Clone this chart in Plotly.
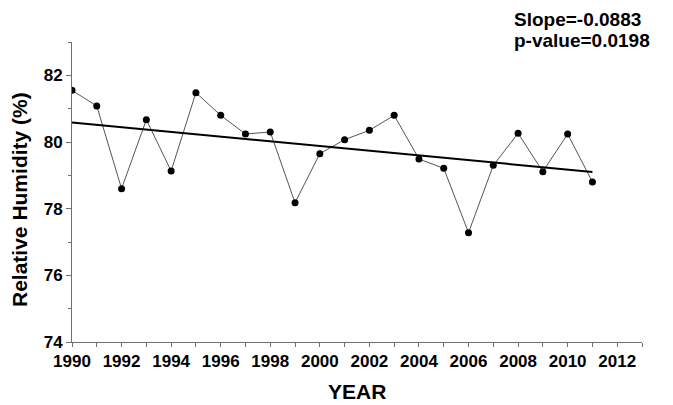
import numpy as np
import plotly.graph_objects as go

years = list(range(1990, 2012))
humidity = [81.55, 81.08, 78.60, 80.67, 79.13, 81.48, 80.80, 80.24, 80.30, 78.18, 79.65,
            80.07, 80.35, 80.80, 79.49, 79.21, 77.28, 79.30, 80.26, 79.11, 80.24, 78.80]
x_ticks = list(range(1990, 2013, 2))
y_ticks = [74, 76, 78, 80, 82]
annotation_lines = ["Slope=-0.0883", "p-value=0.0198"]
x_title = "YEAR"
y_title = "Relative Humidity (%)"

coef = np.polyfit(years, humidity, 1)
trend = np.polyval(coef, years)

FONT = "Liberation Sans, Arial, sans-serif"
AX = "#707070"

fig = go.Figure()
fig.add_trace(go.Scatter(x=years, y=humidity, mode="lines+markers",
                         line=dict(color="#555555", width=1),
                         marker=dict(color="black", size=7), showlegend=False))
fig.add_trace(go.Scatter(x=years, y=trend, mode="lines",
                         line=dict(color="black", width=2), showlegend=False))

fig.update_layout(
    width=673, height=405,
    margin=dict(l=72, r=31, t=42, b=63),
    paper_bgcolor="white", plot_bgcolor="white",
    font=dict(family=FONT, color="black"),
    xaxis=dict(range=[1990, 2013], tickvals=x_ticks, ticks="outside", ticklen=4,
               tickcolor=AX, showline=True, linecolor=AX, linewidth=1,
               showgrid=False, zeroline=False,
               tickfont=dict(size=17, family=FONT, weight="bold"),
               minor=dict(dtick=1, ticks="outside", ticklen=4, tickcolor=AX)),
    yaxis=dict(range=[74, 83], tickvals=y_ticks, ticks="outside", ticklen=5,
               tickcolor=AX, showline=True, linecolor=AX, linewidth=1,
               showgrid=False, zeroline=False,
               tickfont=dict(size=17, family=FONT, weight="bold"),
               minor=dict(dtick=1, ticks="outside", ticklen=3, tickcolor=AX)),
)

# axis titles
fig.add_annotation(x=0, y=(342 - 200) / 300, xref="paper", yref="paper",
                   xanchor="center", yanchor="middle", xshift=-52, textangle=-90,
                   showarrow=False, text="<b>%s</b>" % y_title,
                   font=dict(size=21, family=FONT, color="black"))
fig.add_annotation(x=0.5, y=(342 - 391) / 300, xref="paper", yref="paper",
                   xanchor="center", yanchor="middle", showarrow=False,
                   text="<b>%s</b>" % x_title,
                   font=dict(size=21, family=FONT, color="black"))

# slope / p-value text
for i, line in enumerate(annotation_lines):
    fig.add_annotation(x=(512 - 72) / 570, y=(342 - (19 + 22 * i)) / 300,
                       xref="paper", yref="paper", xanchor="left", yanchor="middle",
                       showarrow=False, text="<b>%s</b>" % line,
                       font=dict(size=19, family=FONT, color="black"))

fig.write_html("out.html")
